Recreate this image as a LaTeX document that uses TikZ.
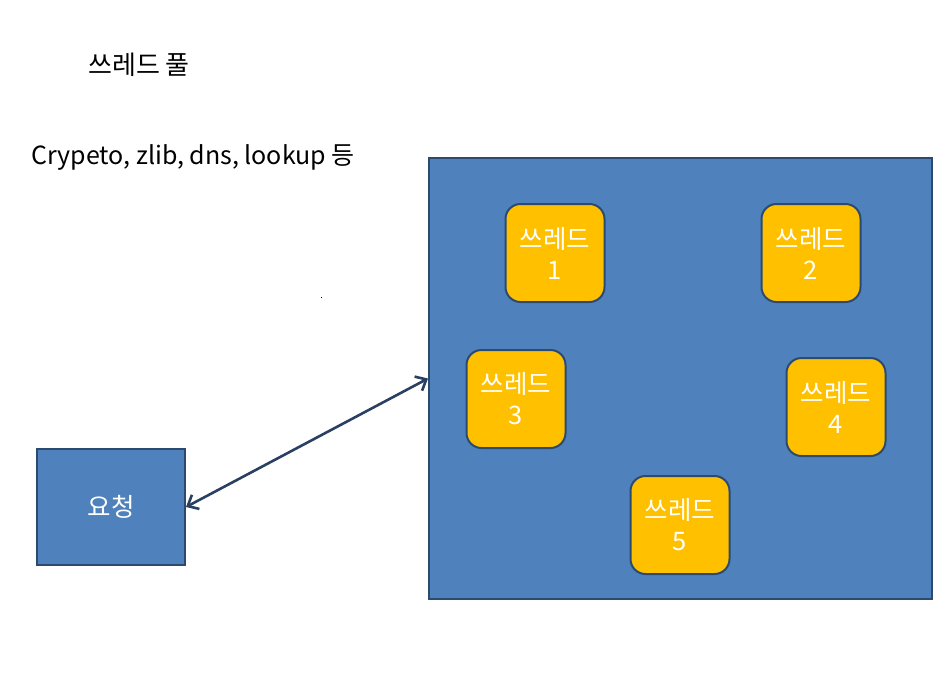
\documentclass[tikz,border=0pt]{standalone}
\usepackage{fontspec}
\setmainfont{Noto Sans CJK KR}
\usetikzlibrary{arrows.meta}
\definecolor{pblue}{HTML}{4F81BD}
\definecolor{pedge}{HTML}{2C4A6E}
\definecolor{pyel}{HTML}{FFC000}
\definecolor{parrow}{HTML}{2A4062}
\tikzset{
  bigbox/.style={draw=pedge, line width=2pt, fill=pblue, inner sep=0pt, anchor=north west},
  thread/.style={draw=pedge, line width=2pt, fill=pyel, rounded corners=15pt, minimum width=99pt, minimum height=98pt, inner sep=0pt, text=white, font=\fontsize{25.5}{31}\selectfont, align=center},
  label/.style={anchor=west, inner sep=0pt},
  conn/.style={draw=parrow, line width=2.6pt, {Straight Barb[length=9pt,width=16pt]}-{Straight Barb[length=9pt,width=16pt]}}
}
\begin{document}
\begin{tikzpicture}[x=1pt,y=-1pt]
\useasboundingbox (0,0) rectangle (947,681);
\node[label, font=\fontsize{26}{30}\selectfont] (title) at (88,65) {쓰레드 풀};
\node[label, font=\fontsize{25}{30}\selectfont] (sub) at (31,157) {Crypeto, zlib, dns, lookup 등};
\node[bigbox, minimum width=503pt, minimum height=441pt] (pool) at (428,157) {};
\node[bigbox, minimum width=148pt, minimum height=116pt, anchor=center, text=white, font=\fontsize{25.5}{30}\selectfont] (req) at (111,507) {요청};
\node[thread] (t1) at (555,253) {쓰레드\\1};
\node[thread] (t2) at (811,253) {쓰레드\\2};
\node[thread] (t3) at (516,399) {쓰레드\\3};
\node[thread] (t4) at (836,407) {쓰레드\\4};
\node[thread] (t5) at (680,525) {쓰레드\\5};
\draw[conn] (req.east) -- (pool.west);
\fill (320.5,296.5) rectangle (321.8,298.2);
\end{tikzpicture}
\end{document}
